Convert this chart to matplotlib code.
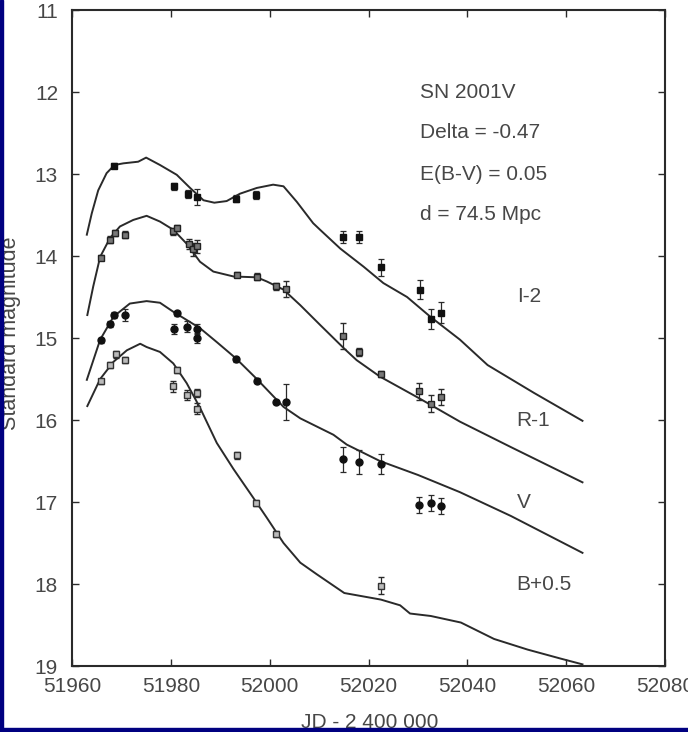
"""
Light curves of SN 2001V (I-2, R-1, V, B+0.5) with model fits
"""
# -----------------------------------------------------------------------------
#                             Libraries Needed
# -----------------------------------------------------------------------------
import matplotlib
matplotlib.use('Agg')
import matplotlib.pyplot as plt
from matplotlib.patches import Rectangle

plt.rcParams['font.family'] = ['Liberation Sans', 'DejaVu Sans']

# -----------------------------------------------------------------------------
#                             Data
# -----------------------------------------------------------------------------
# model curves
i2_curve_jd = [51963.0, 51964.0, 51965.3, 51967.0, 51968.6, 51970.4, 51973.4, 51975.0, 51977.8,
               51981.2, 51983.9, 51986.6, 51988.8, 51991.3, 51994.0, 51997.4, 52000.7, 52002.8,
               52005.5, 52008.8, 52010.2, 52014.3, 52019.0, 52023.0, 52027.8, 52032.5, 52038.5,
               52044.1, 52053.5, 52063.3]
i2_curve_mag = [13.74, 13.48, 13.20, 12.99, 12.89, 12.87, 12.85, 12.80, 12.89,
                13.01, 13.17, 13.32, 13.35, 13.33, 13.24, 13.17, 13.13, 13.15,
                13.34, 13.60, 13.68, 13.91, 14.13, 14.33, 14.50, 14.74, 15.02,
                15.33, 15.67, 16.01]

r1_curve_jd = [51963.1, 51964.3, 51965.7, 51967.7, 51969.7, 51972.4, 51975.1, 51977.8, 51980.5,
               51983.2, 51985.9, 51988.6, 51992.7, 51997.4, 51999.4, 52002.8, 52006.2, 52010.2,
               52015.1, 52017.6, 52022.3, 52030.4, 52038.5, 52048.8, 52063.3]
r1_curve_mag = [14.72, 14.37, 14.01, 13.78, 13.64, 13.56, 13.51, 13.58, 13.68,
                13.85, 14.07, 14.19, 14.25, 14.26, 14.31, 14.41, 14.60, 14.84,
                15.13, 15.27, 15.47, 15.74, 16.02, 16.33, 16.76]

v_curve_jd = [51963.0, 51965.7, 51968.4, 51971.7, 51975.1, 51977.8, 51980.5, 51983.2, 51985.9,
              51989.3, 51993.2, 51997.4, 52002.8, 52006.2, 52012.9, 52015.6, 52022.3, 52030.0,
              52038.5, 52048.8, 52063.3]
v_curve_mag = [15.51, 15.02, 14.74, 14.58, 14.55, 14.57, 14.68, 14.78, 14.88,
               15.05, 15.25, 15.50, 15.84, 15.98, 16.18, 16.30, 16.50, 16.67,
               16.88, 17.17, 17.62]

b_curve_jd = [51963.1, 51965.7, 51968.4, 51971.1, 51973.8, 51975.1, 51977.8, 51980.5, 51983.2,
              51985.9, 51989.3, 51992.7, 51996.7, 51999.4, 52002.8, 52006.2, 52009.5, 52015.1,
              52022.5, 52026.4, 52028.4, 52032.6, 52038.7, 52045.4, 52052.2, 52058.9, 52063.3]
b_curve_mag = [15.83, 15.50, 15.29, 15.15, 15.07, 15.11, 15.17, 15.31, 15.55,
               15.85, 16.28, 16.60, 16.95, 17.19, 17.50, 17.74, 17.88, 18.11,
               18.19, 18.26, 18.36, 18.39, 18.47, 18.67, 18.80, 18.91, 18.98]

# observed points
i2_jd = [51968.6, 51980.7, 51983.4, 51985.2, 51993.2, 51997.2, 52014.9, 52018.1, 52022.6,
         52030.4, 52032.7, 52034.7]
i2_mag = [12.90, 13.15, 13.24, 13.28, 13.30, 13.26, 13.77, 13.77, 14.14, 14.41, 14.77, 14.69]
i2_err = [0.03, 0.04, 0.05, 0.10, 0.04, 0.05, 0.07, 0.07, 0.10, 0.12, 0.12, 0.13]

r1_jd = [51965.8, 51967.7, 51968.7, 51970.7, 51980.5, 51981.2, 51983.6, 51984.5, 51985.3,
         51993.3, 51997.4, 52001.3, 52003.3, 52014.9, 52018.0, 52022.5, 52030.3, 52032.6, 52034.7]
r1_mag = [14.02, 13.80, 13.72, 13.74, 13.70, 13.66, 13.85, 13.92, 13.88,
          14.23, 14.25, 14.37, 14.40, 14.98, 15.17, 15.44, 15.65, 15.80, 15.72]
r1_err = [0.03, 0.04, 0.04, 0.04, 0.04, 0.04, 0.06, 0.08, 0.08,
          0.03, 0.04, 0.04, 0.10, 0.16, 0.05, 0.04, 0.10, 0.10, 0.10]

v_jd = [51965.8, 51967.7, 51968.6, 51970.7, 51980.7, 51981.3, 51983.3, 51985.2, 51985.2,
        51993.2, 51997.4, 52001.3, 52003.3, 52014.9, 52018.1, 52022.6, 52030.3, 52032.6, 52034.7]
v_mag = [15.03, 14.83, 14.72, 14.72, 14.89, 14.70, 14.86, 14.89, 15.00,
         15.26, 15.52, 15.78, 15.78, 16.48, 16.51, 16.54, 17.04, 17.01, 17.05]
v_err = [0.03, 0.04, 0.04, 0.07, 0.06, 0.03, 0.07, 0.06, 0.06,
         0.03, 0.03, 0.03, 0.22, 0.15, 0.15, 0.12, 0.10, 0.10, 0.10]

b_jd = [51965.8, 51967.7, 51968.9, 51970.7, 51980.5, 51981.2, 51983.3, 51985.2, 51985.2,
        51993.4, 51997.2, 52001.3, 52022.6]
b_mag = [15.53, 15.33, 15.20, 15.27, 15.59, 15.39, 15.70, 15.67, 15.86, 16.43, 17.01, 17.39, 18.02]
b_err = [0.03, 0.04, 0.04, 0.04, 0.07, 0.04, 0.06, 0.05, 0.07, 0.04, 0.04, 0.04, 0.10]

info_lines = ['SN 2001V', 'Delta = -0.47', 'E(B-V) = 0.05', 'd = 74.5 Mpc']
band_labels = ['I-2', 'R-1', 'V', 'B+0.5']

# -----------------------------------------------------------------------------
#                             Plotting
# -----------------------------------------------------------------------------
fig = plt.figure(figsize=(6.88, 7.32), dpi=100)
ax = fig.add_axes([72 / 688, 1 - 666 / 732, 593 / 688, 656 / 732])

ink = '#2a2a2a'
txt = '#474747'

for jd, mag in [(i2_curve_jd, i2_curve_mag), (r1_curve_jd, r1_curve_mag),
                (v_curve_jd, v_curve_mag), (b_curve_jd, b_curve_mag)]:
    ax.plot(jd, mag, color=ink, lw=1.4, zorder=2)

eb = dict(ls='none', ecolor=ink, elinewidth=0.9, capsize=2.5, capthick=0.9, zorder=3)
ax.errorbar(i2_jd, i2_mag, yerr=i2_err, fmt='s', ms=5, mfc='#111111', mec='#111111', **eb)
ax.errorbar(r1_jd, r1_mag, yerr=r1_err, fmt='s', ms=5, mfc='#777777', mec='#222222', mew=1, **eb)
ax.errorbar(v_jd, v_mag, yerr=v_err, fmt='o', ms=5, mfc='#111111', mec='#111111', **eb)
ax.errorbar(b_jd, b_mag, yerr=b_err, fmt='s', ms=5, mfc='#bbbbbb', mec='#333333', mew=1, **eb)

# text annotations
for k, line in enumerate(info_lines):
    ax.text(52030.4, 12.0 + 0.5 * k, line, fontsize=15, color=txt, va='center', ha='left')
for label, ypos in zip(band_labels, [14.5, 16.0, 17.0, 18.0]):
    ax.text(52050, ypos, label, fontsize=15, color=txt, va='center', ha='left')

ax.set_xlim(51960, 52080)
ax.set_ylim(19, 11)
ax.set_xticks(range(51960, 52081, 20))
ax.set_yticks(range(11, 20))
ax.tick_params(direction='in', length=5, width=1, color=ink, top=True, right=True,
               labelsize=15, labelcolor=txt, pad=10)
ax.tick_params(axis='x', pad=8)
for s in ax.spines.values():
    s.set_color(ink)
    s.set_linewidth(1.5)

fig.text(11 / 688, 1 - 333 / 732, 'Standard magnitude', rotation=90, fontsize=15.5,
         color=txt, ha='center', va='center')
fig.text(370 / 688, 1 - 723 / 732, 'JD - 2 400 000', fontsize=15, color=txt,
         ha='center', va='center')

# navy frame on left and bottom edges
fig.patches.append(Rectangle((0, 0), 1, 4 / 732, transform=fig.transFigure,
                             color='#000080', zorder=10))
fig.patches.append(Rectangle((0, 0), 3 / 688, 1, transform=fig.transFigure,
                             color='#000080', zorder=10))

fig.savefig('out.png', dpi=100)
